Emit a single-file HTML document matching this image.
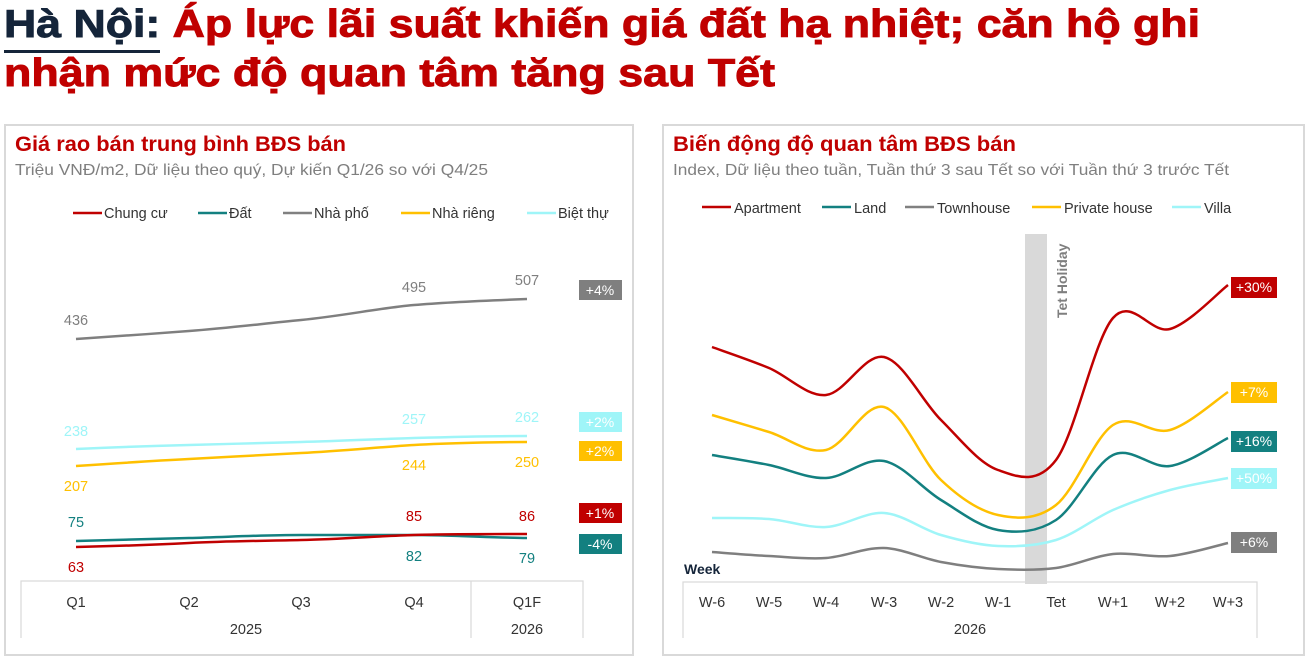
<!DOCTYPE html>
<html><head><meta charset="utf-8"><style>
html,body{margin:0;padding:0;background:#fff;}
svg{display:block;font-family:"Liberation Sans","DejaVu Sans",sans-serif;}
</style></head><body>
<svg id="s" width="1313" height="663" viewBox="0 0 1313 663" xmlns="http://www.w3.org/2000/svg">
<rect width="1313" height="663" fill="#fff"/>
<!-- Title -->
<text x="4" y="37" font-size="39" font-weight="bold" stroke-width="0.9" textLength="1196" lengthAdjust="spacingAndGlyphs"><tspan fill="#15253a" stroke="#15253a">Hà Nội:</tspan><tspan fill="#c00000" stroke="#c00000"> Áp lực lãi suất khiến giá đất hạ nhiệt; căn hộ ghi</tspan></text>
<rect x="4" y="50" width="156" height="3" fill="#15253a"/>
<text x="4" y="86" font-size="39" font-weight="bold" fill="#c00000" stroke="#c00000" stroke-width="0.9" textLength="771" lengthAdjust="spacingAndGlyphs">nhận mức độ quan tâm tăng sau Tết</text>

<!-- panels -->
<rect x="5" y="125" width="628" height="530" fill="none" stroke="#d9d9d9" stroke-width="2"/>
<rect x="663" y="125" width="641" height="530" fill="none" stroke="#d9d9d9" stroke-width="2"/>

<!-- LEFT -->
<text x="15" y="151" font-size="21" font-weight="bold" fill="#c00000" textLength="331" lengthAdjust="spacingAndGlyphs">Giá rao bán trung bình BĐS bán</text>
<text x="15" y="175" font-size="16" fill="#7f7f7f" textLength="473" lengthAdjust="spacingAndGlyphs">Triệu VNĐ/m2, Dữ liệu theo quý, Dự kiến Q1/26 so với Q4/25</text>
<g font-size="14.5" fill="#333">
<line x1="73" y1="213" x2="102" y2="213" stroke="#c00000" stroke-width="2.5"/><text x="104" y="218">Chung cư</text>
<line x1="198" y1="213" x2="227" y2="213" stroke="#138080" stroke-width="2.5"/><text x="229" y="218">Đất</text>
<line x1="283" y1="213" x2="312" y2="213" stroke="#808080" stroke-width="2.5"/><text x="314" y="218">Nhà phố</text>
<line x1="401" y1="213" x2="430" y2="213" stroke="#ffc000" stroke-width="2.5"/><text x="432" y="218">Nhà riêng</text>
<line x1="527" y1="213" x2="556" y2="213" stroke="#9ff5f8" stroke-width="2.5"/><text x="558" y="218">Biệt thự</text>
</g>
<g fill="none" stroke-width="2.5">
<path d="M76,339 C120,336 150,334 189,331 S260,324 301,320 S380,308 414,305 S500,300 527,299" stroke="#7f7f7f"/>
<path d="M76,449 C120,447 150,446 189,445 S260,443 301,442 S380,439 414,438 S500,436 527,436" stroke="#9ff5f8"/>
<path d="M76,466 C120,463 150,461 189,459 S260,455 301,453 S380,447 414,445 S500,442 527,442" stroke="#ffc000"/>
<path d="M76,541 C120,540 150,539 189,538 S260,535 301,535 S380,535 414,535 S500,538 527,538" stroke="#138080"/>
<path d="M76,547 C120,546 150,545 189,543 S260,541 301,540 S380,536 414,535 S500,534 527,534" stroke="#c00000"/>
</g>
<g font-size="14.5" text-anchor="middle">
<text x="76" y="325" fill="#7f7f7f">436</text><text x="414" y="292" fill="#7f7f7f">495</text><text x="527" y="285" fill="#7f7f7f">507</text>
<text x="76" y="436" fill="#9ff5f8">238</text><text x="414" y="424" fill="#9ff5f8">257</text><text x="527" y="422" fill="#9ff5f8">262</text>
<text x="76" y="491" fill="#ffc000">207</text><text x="414" y="470" fill="#ffc000">244</text><text x="527" y="467" fill="#ffc000">250</text>
<text x="76" y="527" fill="#138080">75</text><text x="414" y="561" fill="#138080">82</text><text x="527" y="563" fill="#138080">79</text>
<text x="76" y="572" fill="#c00000">63</text><text x="414" y="521" fill="#c00000">85</text><text x="527" y="521" fill="#c00000">86</text>
</g>
<g font-size="14" text-anchor="middle" fill="#fff">
<rect x="579" y="280" width="43" height="20" fill="#7f7f7f"/><text x="600" y="295">+4%</text>
<rect x="579" y="412" width="43" height="20" fill="#9ff5f8"/><text x="600" y="427">+2%</text>
<rect x="579" y="441" width="43" height="20" fill="#ffc000"/><text x="600" y="456">+2%</text>
<rect x="579" y="503" width="43" height="20" fill="#c00000"/><text x="600" y="518">+1%</text>
<rect x="579" y="534" width="43" height="20" fill="#138080"/><text x="600" y="549">-4%</text>
</g>
<g stroke="#d9d9d9" stroke-width="1.2" fill="none">
<path d="M21,638 V581 H583 V638"/><line x1="471" y1="581" x2="471" y2="638"/>
</g>
<g font-size="14.5" text-anchor="middle" fill="#333">
<text x="76" y="607">Q1</text><text x="189" y="607">Q2</text><text x="301" y="607">Q3</text><text x="414" y="607">Q4</text><text x="527" y="607">Q1F</text>
<text x="246" y="634">2025</text><text x="527" y="634">2026</text>
</g>

<!-- RIGHT -->
<text x="673" y="151" font-size="21" font-weight="bold" fill="#c00000" textLength="343" lengthAdjust="spacingAndGlyphs">Biến động độ quan tâm BĐS bán</text>
<text x="673" y="175" font-size="16" fill="#7f7f7f" textLength="556" lengthAdjust="spacingAndGlyphs">Index, Dữ liệu theo tuần, Tuần thứ 3 sau Tết so với Tuần thứ 3 trước Tết</text>
<g font-size="14.5" fill="#333">
<line x1="702" y1="207" x2="731" y2="207" stroke="#c00000" stroke-width="2.5"/><text x="734" y="213">Apartment</text>
<line x1="822" y1="207" x2="851" y2="207" stroke="#138080" stroke-width="2.5"/><text x="854" y="213">Land</text>
<line x1="905" y1="207" x2="934" y2="207" stroke="#808080" stroke-width="2.5"/><text x="937" y="213">Townhouse</text>
<line x1="1032" y1="207" x2="1061" y2="207" stroke="#ffc000" stroke-width="2.5"/><text x="1064" y="213">Private house</text>
<line x1="1172" y1="207" x2="1201" y2="207" stroke="#9ff5f8" stroke-width="2.5"/><text x="1204" y="213">Villa</text>
</g>
<rect x="1025" y="234" width="22" height="350" fill="#d9d9d9"/>
<text transform="translate(1067,318) rotate(-90)" font-size="14" font-weight="bold" fill="#7f7f7f">Tet Holiday</text>
<g id="lines" fill="none" stroke-width="2.5"></g>
<g font-size="14" text-anchor="middle" fill="#fff">
<rect x="1231" y="277" width="46" height="21" fill="#c00000"/><text x="1254" y="292">+30%</text>
<rect x="1231" y="382" width="46" height="21" fill="#ffc000"/><text x="1254" y="397">+7%</text>
<rect x="1231" y="431" width="46" height="21" fill="#138080"/><text x="1254" y="446">+16%</text>
<rect x="1231" y="468" width="46" height="21" fill="#9ff5f8"/><text x="1254" y="483">+50%</text>
<rect x="1231" y="532" width="46" height="21" fill="#7f7f7f"/><text x="1254" y="547">+6%</text>
</g>
<text x="684" y="574" font-size="14" font-weight="bold" fill="#15253a">Week</text>
<path d="M683,638 V582 H1257 V638" stroke="#d9d9d9" stroke-width="1.2" fill="none"/>
<g font-size="14.5" text-anchor="middle" fill="#333">
<text x="712" y="607">W-6</text><text x="769" y="607">W-5</text><text x="826" y="607">W-4</text><text x="884" y="607">W-3</text><text x="941" y="607">W-2</text><text x="998" y="607">W-1</text><text x="1056" y="607">Tet</text><text x="1113" y="607">W+1</text><text x="1170" y="607">W+2</text><text x="1228" y="607">W+3</text>
<text x="970" y="634">2026</text>
</g>
</svg>
<script>
var xs=[712,769,826,884,941,998,1056,1113,1170,1228];
var S={
"#c00000":[347,368,395,357,420,470,460,318,329,285],
"#ffc000":[415,432,450,407,480,515,505,425,430,392],
"#138080":[455,465,478,461,500,530,520,455,466,438],
"#9ff5f8":[518,519,527,513,535,546,540,510,490,478],
"#7f7f7f":[552,556,558,548,562,569,568,554,556,543]};
var g=document.getElementById('lines');
for(var c in S){var y=S[c];var p=[];for(var i=0;i<xs.length;i++)p.push([xs[i],y[i]]);
var d='M'+p[0][0]+','+p[0][1];
for(var i=0;i<p.length-1;i++){var p0=p[i-1]||p[i],p1=p[i],p2=p[i+1],p3=p[i+2]||p2;
var c1=[p1[0]+(p2[0]-p0[0])/6,p1[1]+(p2[1]-p0[1])/6],c2=[p2[0]-(p3[0]-p1[0])/6,p2[1]-(p3[1]-p1[1])/6];
d+=' C'+c1+' '+c2+' '+p2;}
var e=document.createElementNS('http://www.w3.org/2000/svg','path');e.setAttribute('d',d);e.setAttribute('stroke',c);g.appendChild(e);}
</script>
</body></html>
